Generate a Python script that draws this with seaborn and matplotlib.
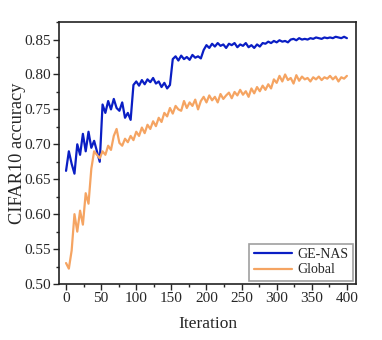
import numpy as np
import pandas as pd
import seaborn as sns
import matplotlib.pyplot as plt
from matplotlib.ticker import MultipleLocator

# iterations sampled every 4 steps
iters = list(range(0, 401, 4))

# GE-NAS accuracy
ge_nas = [0.662, 0.690, 0.672, 0.658, 0.700, 0.685, 0.715, 0.690, 0.718, 0.695,
          0.705, 0.690, 0.675, 0.757, 0.745, 0.762, 0.750, 0.765, 0.752, 0.748,
          0.760, 0.738, 0.745, 0.735, 0.785, 0.790, 0.784, 0.792, 0.786, 0.793,
          0.789, 0.795, 0.787, 0.790, 0.782, 0.788, 0.780, 0.785, 0.822, 0.826,
          0.820, 0.827, 0.822, 0.825, 0.821, 0.828, 0.824, 0.826, 0.823, 0.835,
          0.842, 0.838, 0.844, 0.840, 0.845, 0.841, 0.843, 0.838, 0.844, 0.842,
          0.845, 0.839, 0.843, 0.841, 0.845, 0.839, 0.842, 0.838, 0.843, 0.840,
          0.845, 0.844, 0.847, 0.845, 0.848, 0.846, 0.849, 0.847, 0.848, 0.846,
          0.850, 0.851, 0.849, 0.852, 0.850, 0.851, 0.850, 0.852, 0.851, 0.853,
          0.852, 0.851, 0.853, 0.852, 0.853, 0.852, 0.854, 0.853, 0.852, 0.854,
          0.852]

# Global search accuracy
global_acc = [0.530, 0.522, 0.548, 0.600, 0.575, 0.605, 0.585, 0.630, 0.615, 0.665,
              0.690, 0.685, 0.680, 0.690, 0.685, 0.698, 0.692, 0.712, 0.722, 0.702,
              0.698, 0.708, 0.703, 0.712, 0.706, 0.718, 0.712, 0.724, 0.716, 0.728,
              0.722, 0.733, 0.726, 0.738, 0.732, 0.745, 0.740, 0.752, 0.744, 0.755,
              0.750, 0.748, 0.762, 0.752, 0.760, 0.755, 0.764, 0.750, 0.762, 0.768,
              0.760, 0.770, 0.763, 0.768, 0.760, 0.772, 0.765, 0.770, 0.774, 0.766,
              0.775, 0.770, 0.778, 0.771, 0.776, 0.768, 0.780, 0.773, 0.782, 0.776,
              0.784, 0.778, 0.786, 0.780, 0.793, 0.788, 0.798, 0.790, 0.800, 0.792,
              0.795, 0.787, 0.799, 0.791, 0.797, 0.793, 0.795, 0.790, 0.796, 0.793,
              0.797, 0.792, 0.796, 0.794, 0.798, 0.793, 0.797, 0.790, 0.796, 0.794,
              0.798]

df = pd.DataFrame({'Iteration': iters * 2,
                   'acc': ge_nas + global_acc,
                   'method': ['GE-NAS'] * len(iters) + ['Global'] * len(iters)})

sns.set_style('ticks')
plt.rcParams['font.family'] = ['Liberation Serif', 'DejaVu Serif']

fig = plt.figure(figsize=(3.82, 3.40), dpi=100)
ax = fig.add_axes([0.1545, 0.1647, 0.7775, 0.7703])

sns.lineplot(data=df, x='Iteration', y='acc', hue='method',
             palette={'GE-NAS': '#0a1ec4', 'Global': '#f5a462'},
             linewidth=1.6, ax=ax)

ax.set_xlim(-10, 413)
ax.set_ylim(0.5, 0.875)
ax.xaxis.set_major_locator(MultipleLocator(50))
ax.xaxis.set_minor_locator(MultipleLocator(25))
ax.yaxis.set_major_locator(MultipleLocator(0.05))
ax.yaxis.set_minor_locator(MultipleLocator(0.025))
ax.yaxis.set_major_formatter(plt.FormatStrFormatter('%.2f'))
ax.tick_params(which='major', direction='out', length=4, width=1, labelsize=11,
               top=False, right=False, pad=2)
ax.tick_params(which='minor', direction='out', length=2, width=1, top=False, right=False)
for s in ax.spines.values():
    s.set_linewidth(1.2)
    s.set_color('#222222')

ax.set_xlabel('Iteration', fontsize=12.5, labelpad=8)
ax.set_ylabel('CIFAR10 accuracy', fontsize=13.2)
ax.yaxis.set_label_coords(-0.11, 0.5)

leg = ax.legend(loc='lower right', fontsize=10, frameon=True, fancybox=False,
                edgecolor='#888888', handlelength=2.8, borderaxespad=0.25,
                labelspacing=0.15, handletextpad=0.35, borderpad=0.3)
leg.get_frame().set_linewidth(1.2)
leg.set_title(None)

fig.savefig('out.png', dpi=100)
